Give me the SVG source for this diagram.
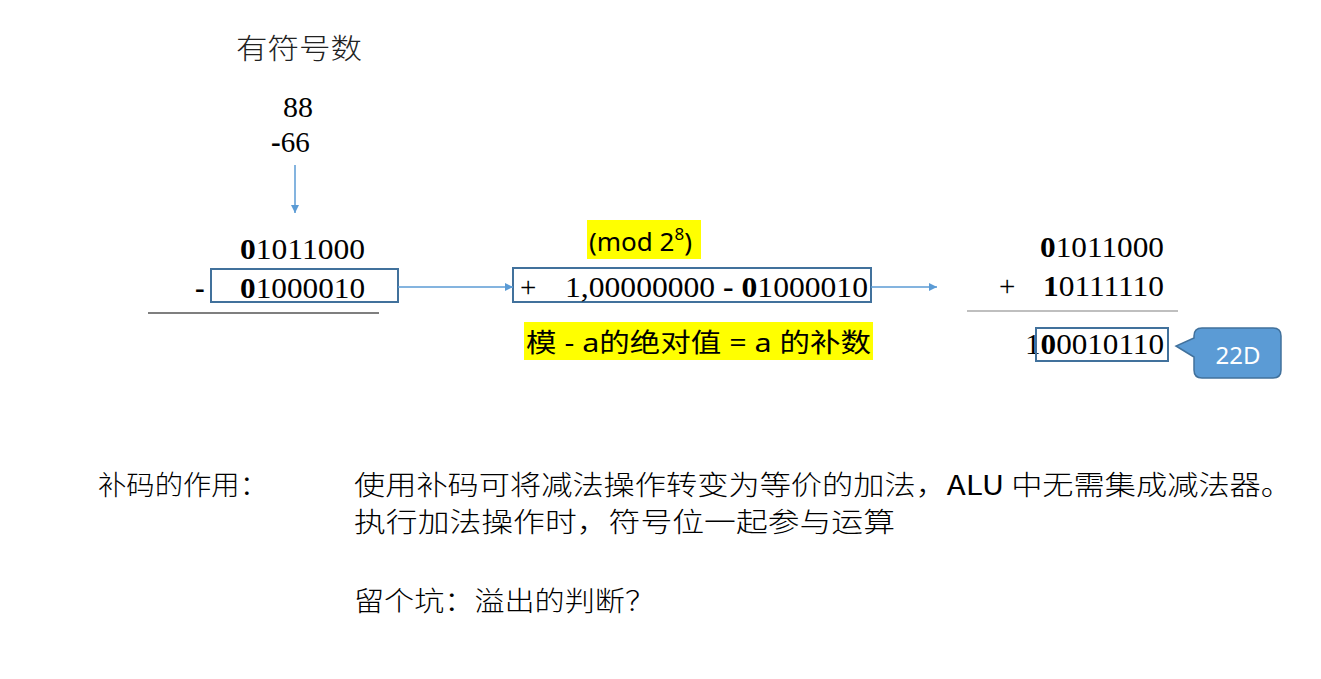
<svg xmlns="http://www.w3.org/2000/svg" width="1321" height="679" viewBox="0 0 1321 679">
<defs>
<style>
.num{font-family:"Liberation Serif","Times New Roman","DejaVu Serif",serif;font-size:29px;fill:#000}
.cjkserif{font-family:"Noto Sans CJK SC",sans-serif;font-size:28px;fill:#222;font-weight:300}
.sans{font-family:"Noto Sans","Noto Sans CJK SC",sans-serif;font-size:26px;fill:#000}
.cjk{font-family:"Noto Sans CJK SC",sans-serif;font-size:27px;fill:#000;font-weight:300}
.box{fill:none;stroke:#41719c;stroke-width:2}
.conn{stroke:#5b9bd5;stroke-width:1.5;fill:none}
.hl{fill:#ffff00}
</style>
<marker id="ah" viewBox="0 0 10 10" refX="10" refY="5" markerWidth="8" markerHeight="8" markerUnits="userSpaceOnUse" orient="auto">
<path d="M0,0 L10,5 L0,10 z" fill="#5b9bd5"/>
</marker>
</defs>
<rect width="1321" height="679" fill="#fff"/>

<g id="title">
<text class="cjkserif" x="236" y="59" textLength="126" lengthAdjust="spacingAndGlyphs">有符号数</text>
</g>
<g id="inputs">
<text class="num" x="283" y="117" textLength="30" lengthAdjust="spacingAndGlyphs">88</text>
<text class="num" x="271" y="152"><tspan font-weight="bold">-</tspan>66</text>
</g>

<g id="left-calc">
<text class="num" x="240" y="259" textLength="125" lengthAdjust="spacingAndGlyphs"><tspan font-weight="bold">0</tspan>1011000</text>
<text class="num" x="195" y="298" font-weight="bold">-</text>
<rect class="box" x="211" y="269" width="187" height="33"/>
<text class="num" x="240" y="298" textLength="125" lengthAdjust="spacingAndGlyphs"><tspan font-weight="bold">0</tspan>1000010</text>
<line x1="148" y1="313" x2="379" y2="313" stroke="#000" stroke-width="1.2"/>
</g>

<g id="mid-calc">
<rect class="hl" x="587" y="220" width="114" height="39"/>
<text class="sans" x="589" y="251" font-size="27">(mod 2<tspan font-size="17" dy="-11">8</tspan><tspan dy="11">)</tspan></text>
<rect class="box" x="513" y="268" width="358" height="34"/>
<text class="num" x="520" y="297">+</text>
<text class="num" x="565" y="297" textLength="303" lengthAdjust="spacingAndGlyphs">1,00000000 <tspan font-weight="bold">- 0</tspan>1000010</text>
<rect class="hl" x="524" y="322" width="349" height="38"/>
<text class="sans" x="526" y="352" font-size="28" textLength="345" lengthAdjust="spacingAndGlyphs">模 - a的绝对值 = a 的补数</text>
</g>

<g id="right-calc">
<text class="num" x="1040" y="257" textLength="124" lengthAdjust="spacingAndGlyphs"><tspan font-weight="bold">0</tspan>1011000</text>
<text class="num" x="999" y="296" fill="#7f1f1f">+</text>
<text class="num" x="1043" y="296" textLength="121" lengthAdjust="spacingAndGlyphs"><tspan font-weight="bold">1</tspan>0111110</text>
<line x1="967" y1="311" x2="1178" y2="311" stroke="#808080" stroke-width="1.2"/>
<text class="num" x="1025" y="354" textLength="139" lengthAdjust="spacingAndGlyphs">1<tspan font-weight="bold">0</tspan>0010110</text>
<rect class="box" x="1036" y="328" width="132" height="33"/>
</g>

<g id="callout">
<path d="M1202,328 H1273 Q1281,328 1281,336 V370 Q1281,378 1273,378 H1202 Q1194,378 1194,370 V357 L1176,346 L1194,338 V336 Q1194,328 1202,328 Z" fill="#5b9bd5" stroke="#41719c" stroke-width="1.5"/>
<text x="1238" y="364" text-anchor="middle" font-family="Noto Sans, sans-serif" font-size="24" fill="#fff">22D</text>
</g>

<g id="connectors">
<line class="conn" x1="295" y1="165" x2="295" y2="213" marker-end="url(#ah)"/>
<line class="conn" x1="398" y1="287" x2="513" y2="287" marker-end="url(#ah)"/>
<line class="conn" x1="871" y1="287" x2="937" y2="287" marker-end="url(#ah)"/>
</g>

<g id="notes">
<text class="cjk" x="98" y="495" textLength="170" lengthAdjust="spacingAndGlyphs">补码的作用：</text>
<text class="cjk" x="354" y="495" textLength="938" lengthAdjust="spacingAndGlyphs">使用补码可将减法操作转变为等价的加法，<tspan font-weight="400">ALU</tspan> 中无需集成减法器。</text>
<text class="cjk" x="354" y="532" textLength="541" lengthAdjust="spacingAndGlyphs">执行加法操作时，符号位一起参与运算</text>
<text class="cjk" x="354" y="611" textLength="301" lengthAdjust="spacingAndGlyphs">留个坑：溢出的判断？</text>
</g>
</svg>
